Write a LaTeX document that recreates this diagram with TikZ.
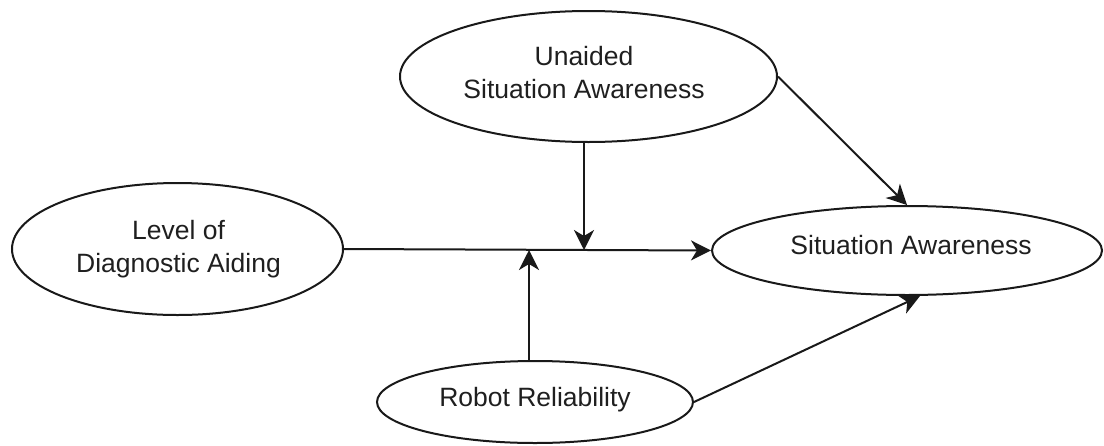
\documentclass[tikz,border=0pt]{standalone}
\usepackage{fontspec}
\setmainfont{Liberation Sans}
\usetikzlibrary{arrows.meta,calc,shapes.geometric}

\tikzset{
  oval/.style={ellipse, draw=black!90, line width=2pt, inner sep=0pt, fill=white},
  lbl/.style={align=center, inner sep=0pt, text=black!88,
              font=\fontsize{26.5}{33}\selectfont},
  arr/.style={draw=black!90, line width=2pt,
              -{Stealth[length=20pt, width=20pt, inset=6pt]}},
}

\begin{document}
\begin{tikzpicture}[x=1pt, y=-1pt]
  \useasboundingbox (0,0) rectangle (1104,445);

  % ovals
  \node[oval, minimum width=377pt, minimum height=131pt] (una) at (588.5,76.5) {};
  \node[oval, minimum width=331pt, minimum height=132pt] (lev) at (177.5,249) {};
  \node[oval, minimum width=390pt, minimum height=89pt]  (sa)  at (907,250.5) {};
  \node[oval, minimum width=316pt, minimum height=82pt]  (rob) at (535,402) {};

  % labels
  \node[lbl] (una-t) at (584,73)    {Unaided\\Situation Awareness};
  \node[lbl] (lev-t) at (178.5,249) {Level of\\Diagnostic Aiding};
  \node[lbl] (sa-t)  at (911,245.5) {Situation Awareness};
  \node[lbl] (rob-t) at (535,399.5) {Robot Reliability};

  % meeting points of the moderating arrows on the main path
  \coordinate (mtop) at (584,250);
  \coordinate (mbot) at (529,250);

  % main path
  \draw[arr] (lev.east) -- (sa.west);

  % moderators
  \draw[arr] (una.south -| mtop) -- (mtop);
  \draw[arr] (rob.north -| mbot) -- (mbot);

  % direct effects
  \draw[arr] (una.east) -- (sa.north);
  \draw[arr] (rob.east) -- ($(sa.south)+(13,0)$);
\end{tikzpicture}
\end{document}
